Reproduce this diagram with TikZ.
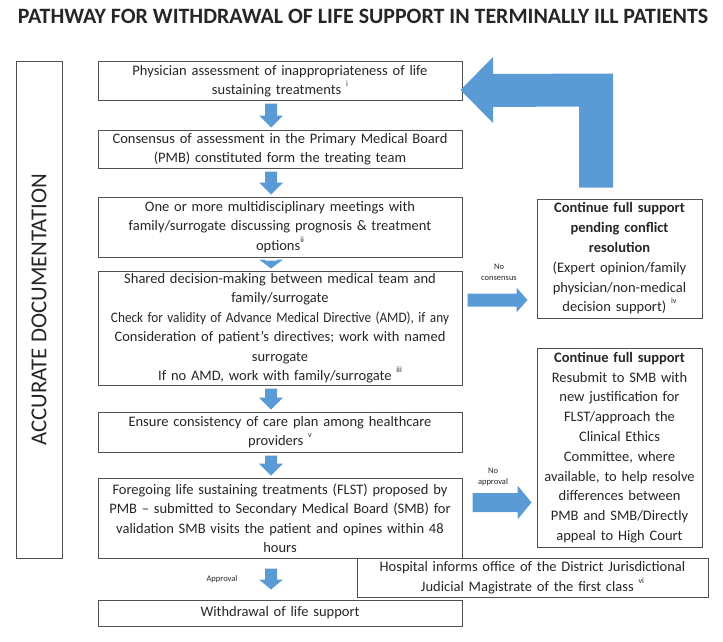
\documentclass[tikz,border=0pt]{standalone}
\usepackage{fontspec}
\usepackage{graphicx}
\setmainfont{Carlito}
\usetikzlibrary{calc}
\definecolor{blk}{HTML}{5B9BD5}
\definecolor{edge}{HTML}{505050}
\definecolor{ink}{HTML}{262626}
\newcommand\rsup[1]{\raisebox{0.55em}{\fontsize{8}{8}\selectfont #1}}
% vertical block arrow from node #2 to node #3, head length #1
\newcommand\vblock[3][12]{%
  \fill[blk] ($(#2.south -| ax)+(-6,3)$) -- ($(#2.south -| ax)+(6,3)$)
    -- ($(#3.north -| ax)+(6,-2-#1)$) -- ($(#3.north -| ax)+(12,-2-#1)$)
    -- ($(#3.north -| ax)+(0,-2)$) -- ($(#3.north -| ax)+(-12,-2-#1)$)
    -- ($(#3.north -| ax)+(-6,-2-#1)$) -- cycle;}
% horizontal block arrow: from #1 to #2 at height of #3; start gap #4, tip gap #5, head length #6, shaft half #7, head half #8
\newcommand\hblock[8]{%
  \fill[blk] ($(#1.east |- #3)+(#4,-#7)$) -- ($(#2.west |- #3)+(-#5-#6,-#7)$)
    -- ($(#2.west |- #3)+(-#5-#6,-#8)$) -- ($(#2.west |- #3)+(-#5,0)$)
    -- ($(#2.west |- #3)+(-#5-#6,#8)$) -- ($(#2.west |- #3)+(-#5-#6,#7)$)
    -- ($(#1.east |- #3)+(#4,#7)$) -- cycle;}
\begin{document}
\begin{tikzpicture}[x=1pt,y=-1pt,
  every node/.style={text=ink},
  mbox/.style={draw=edge, line width=1pt, minimum width=364pt, text width=356pt,
    align=center, inner sep=0pt, font=\fontsize{14.5}{19.5}\selectfont},
  rbox/.style={draw=edge, line width=1pt, minimum width=165pt, text width=158pt,
    align=center, inner sep=0pt, font=\fontsize{14.5}{19.8}\selectfont},
  tag/.style={font=\fontsize{8.5}{11}\selectfont, align=center, inner sep=0pt}]
\useasboundingbox (0,0) rectangle (723,642);
\coordinate (ax) at (271,0);

\node[font=\bfseries\fontsize{21.9}{26}\selectfont] (title) at (363,16)
  {PATHWAY FOR WITHDRAWAL OF LIFE SUPPORT IN TERMINALLY ILL PATIENTS};

\node[draw=edge, line width=1pt, rotate=90, minimum width=496pt, minimum height=46pt,
  inner sep=0pt, font=\fontsize{22.8}{26}\selectfont] (doc) at (39,310) {ACCURATE DOCUMENTATION};

\node[mbox, minimum height=38pt] (b1) at (280,81)
  {Physician assessment of inappropriateness of life\\ sustaining treatments \rsup{i}};
\node[mbox, minimum height=38pt] (b2) at (280,149)
  {Consensus of assessment in the Primary Medical Board\\ (PMB) constituted form the treating team};
\node[mbox, minimum height=60pt] (b3) at (280,227)
  {One or more multidisciplinary meetings with\\ family/surrogate discussing prognosis \& treatment\\ options\rsup{ii}};
\node[mbox, minimum height=114pt] (b4) at (280,328)
  {Shared decision-making between medical team and\\ family/surrogate\\
   \resizebox{338pt}{\height}{Check for validity of Advance Medical Directive (AMD), if any}\\
   Consideration of patient’s directives; work with named\\ surrogate\\
   If no AMD, work with family/surrogate \rsup{iii}};
\node[mbox, minimum height=40pt] (b5) at (280,432)
  {Ensure consistency of care plan among healthcare\\ providers \rsup{v}};
\node[mbox, minimum height=80pt] (b6) at (280,518)
  {Foregoing life sustaining treatments (FLST) proposed by\\
   PMB – submitted to Secondary Medical Board (SMB) for\\
   validation SMB visits the patient and opines within 48\\ hours};
\node[mbox, minimum height=26pt] (b7) at (280,613) {Withdrawal of life support};

\node[draw=edge, line width=1pt, minimum width=351pt, minimum height=39pt, text width=345pt,
  align=center, inner sep=0pt, font=\fontsize{14.5}{20.5}\selectfont] (hosp) at (532.5,577.5)
  {Hospital informs office of the District Jurisdictional\\ Judicial Magistrate of the first class \rsup{vi}};

\node[rbox, minimum height=119pt] (r1) at (619.5,258.5)
  {\textbf{Continue full support}\\ \textbf{pending conflict}\\ \textbf{resolution}\\
   (Expert opinion/family\\ physician/non-medical\\ decision support) \rsup{iv}};
\node[rbox, minimum height=199pt] (r2) at (619.5,447.5)
  {\textbf{Continue full support}\\ Resubmit to SMB with\\ new justification for\\ FLST/approach the\\
   Clinical Ethics\\ Committee, where\\ available, to help resolve\\ differences between\\
   PMB and SMB/Directly\\ appeal to High Court};

% vertical arrows
\vblock{b1}{b2}
\vblock{b2}{b3}
\vblock[9]{b3}{b4}
\vblock{b4}{b5}
\vblock{b5}{b6}
\fill[blk] ($(b6.south -| ax)+(-6,10)$) -- ($(b6.south -| ax)+(6,10)$)
  -- ($(b7.north -| ax)+(6,-20)$) -- ($(b7.north -| ax)+(12,-20)$)
  -- ($(b7.north -| ax)+(0,-10)$) -- ($(b7.north -| ax)+(-12,-20)$)
  -- ($(b7.north -| ax)+(-6,-20)$) -- cycle;

% horizontal arrows
\coordinate (y1) at (0,300);
\coordinate (y2) at (0,502.5);
\hblock{b4}{r1}{y1}{5}{9}{11}{6.5}{12.5}
\hblock{b6}{r2}{y2}{10}{5}{14}{9.5}{17}
\node[tag] (nc) at (499,272) {No\\ consensus};
\node[tag] (na) at (493,477) {No\\ approval};
\node[tag] (ap) at (222,579) {Approval};

% return arrow from r1 to b1
\coordinate (ltip) at ($(b1.east)+(-2,9)$);
\fill[blk] ($(r1.north)+(-6.5,-11)$) -- ($(r1.north)+(-6.5,-125)$) -- (493,74) -- (493,57)
  -- (ltip) -- (493,123) -- (493,107) -- ($(r1.north)+(-40.5,-92)$)
  -- ($(r1.north)+(-40.5,-11)$) -- cycle;
\end{tikzpicture}
\end{document}
